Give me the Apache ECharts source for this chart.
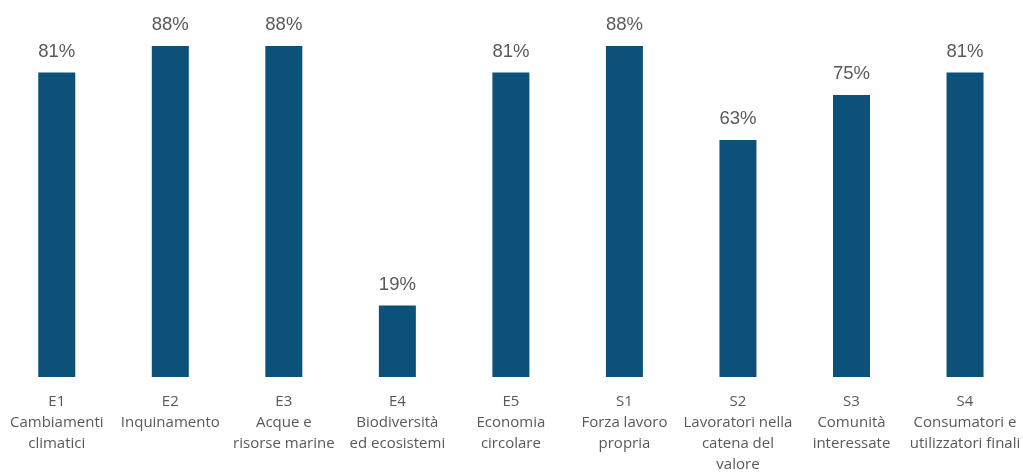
<!DOCTYPE html>
<html>
<head>
<meta charset="utf-8">
<script src="https://cdn.jsdelivr.net/npm/echarts@6/dist/echarts.min.js"></script>
<style>
  html, body { margin: 0; padding: 0; background: #ffffff; }
  #chart { width: 1023px; height: 475px; }
</style>
</head>
<body>
<div id="chart"></div>
<script>
// Topics ESRS: share of material topics per standard
const categories = [
  'E1\nCambiamenti\nclimatici',
  'E2\nInquinamento',
  'E3\nAcque e\nrisorse marine',
  'E4\nBiodiversità\ned ecosistemi',
  'E5\nEconomia\ncircolare',
  'S1\nForza lavoro\npropria',
  'S2\nLavoratori nella\ncatena del\nvalore',
  'S3\nComunità\ninteressate',
  'S4\nConsumatori e\nutilizzatori finali'
];
const values = [81, 88, 88, 19, 81, 88, 63, 75, 81];

const chart = echarts.init(document.getElementById('chart'));
chart.setOption({
  animation: false,
  grid: { left: -1, right: -2, top: 1, bottom: 94, containLabel: false },
  xAxis: {
    type: 'category',
    data: categories,
    axisLine: { show: false },
    axisTick: { show: false },
    axisLabel: {
      interval: 0,
      margin: 14,
      color: '#595959',
      fontFamily: 'Open Sans',
      fontSize: 15,
      lineHeight: 21
    }
  },
  yAxis: {
    type: 'value',
    min: 0,
    max: 100,
    show: false
  },
  series: [{
    type: 'bar',
    data: values,
    barWidth: 37,
    itemStyle: { color: '#0B5179' },
    label: {
      show: true,
      position: 'top',
      distance: 11.5,
      formatter: '{c}%',
      color: '#595959',
      fontFamily: 'Liberation Sans',
      fontSize: 18.5
    }
  }]
});
</script>
</body>
</html>
